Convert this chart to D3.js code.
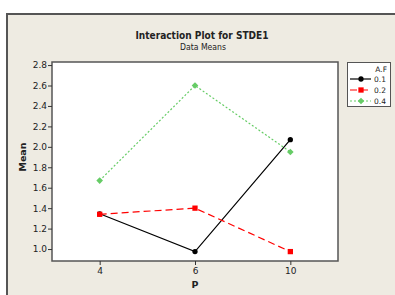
<!DOCTYPE html>
<html>
<head>
<meta charset="utf-8">
<script src="https://cdn.jsdelivr.net/npm/d3@7"></script>
<style>
  body { margin: 0; background: #fff; }
  text { font-family: Tahoma, "DejaVu Sans", sans-serif; fill: #222; }
</style>
</head>
<body>
<div id="chart"></div>
<script>
// categories on the x axis (P) and the series (A.F)
var pLevels = ["4", "6", "10"];
var afLevels = ["0.1", "0.2", "0.4"];

// means
var mean01 = [1.345, 0.975, 2.07];
var mean02 = [1.34, 1.40, 0.975];
var mean04 = [1.67, 2.60, 1.95];

var yTicks = [1.0, 1.2, 1.4, 1.6, 1.8, 2.0, 2.2, 2.4, 2.6, 2.8];

var width = 395, height = 295;
var plot = { left: 52, top: 62, right: 338, bottom: 261 };

var series = [
  { name: afLevels[0], values: mean01, color: "#000000", dash: null, symbol: d3.symbolCircle, size: 22, rot: 0 },
  { name: afLevels[1], values: mean02, color: "#ff0000", dash: "7,4", symbol: d3.symbolSquare, size: 28, rot: 0 },
  { name: afLevels[2], values: mean04, color: "#66cc66", dash: "2,2", symbol: d3.symbolSquare, size: 22, rot: 45 }
];

var svg = d3.select("#chart").append("svg")
  .attr("width", width)
  .attr("height", height);

// panel background with border on top and left
svg.append("rect").attr("x", 6).attr("y", 13).attr("width", width).attr("height", height)
  .attr("fill", "#eeebe2");
svg.append("path").attr("d", "M7," + height + "V14H" + width)
  .attr("fill", "none").attr("stroke", "#555").attr("stroke-width", 2);

// titles
svg.append("text").attr("x", 202).attr("y", 38.5).attr("text-anchor", "middle")
  .attr("font-size", 10.5).attr("font-weight", "bold")
  .attr("textLength", 133).attr("lengthAdjust", "spacingAndGlyphs")
  .text("Interaction Plot for STDE1");
svg.append("text").attr("x", 203).attr("y", 50).attr("text-anchor", "middle")
  .attr("font-size", 8.5)
  .attr("textLength", 46).attr("lengthAdjust", "spacingAndGlyphs")
  .text("Data Means");

var x = d3.scalePoint().domain(pLevels)
  .range([plot.left, plot.right]).padding(0.5);
var y = d3.scaleLinear().domain([0.883, 2.83])
  .range([plot.bottom, plot.top]);

// plot area
svg.append("rect").attr("x", plot.left).attr("y", plot.top)
  .attr("width", plot.right - plot.left).attr("height", plot.bottom - plot.top)
  .attr("fill", "#fff").attr("stroke", "#555").attr("stroke-width", 1.5);

// axes
var yAxis = svg.append("g").attr("transform", "translate(" + plot.left + ",0)")
  .call(d3.axisLeft(y).tickValues(yTicks).tickFormat(d3.format(".1f")).tickSize(4).tickPadding(1));
var xAxis = svg.append("g").attr("transform", "translate(0," + plot.bottom + ")")
  .call(d3.axisBottom(x).tickSize(4).tickPadding(3));
[yAxis, xAxis].forEach(function(a) {
  a.select(".domain").remove();
  a.selectAll("line").attr("stroke", "#333");
  a.selectAll("text").attr("font-size", 9).attr("font-family", "Tahoma, 'DejaVu Sans', sans-serif").attr("fill", "#222");
});

// axis titles
svg.append("text").attr("transform", "translate(26,157) rotate(-90)")
  .attr("text-anchor", "middle").attr("font-size", 9.5).attr("font-weight", "bold")
  .text("Mean");
svg.append("text").attr("x", 195).attr("y", 288)
  .attr("text-anchor", "middle").attr("font-size", 9.5).attr("font-weight", "bold")
  .text("P");

// lines and markers
var line = d3.line()
  .x(function(d, i) { return x(pLevels[i]); })
  .y(function(d) { return y(d); });

series.forEach(function(s) {
  svg.append("path").datum(s.values)
    .attr("d", line)
    .attr("fill", "none")
    .attr("stroke", s.color)
    .attr("stroke-width", 1.2)
    .attr("stroke-dasharray", s.dash);
  svg.selectAll(null).data(s.values).enter().append("path")
    .attr("d", d3.symbol().type(s.symbol).size(s.size))
    .attr("transform", function(d, i) {
      return "translate(" + x(pLevels[i]) + "," + y(d) + ") rotate(" + s.rot + ")";
    })
    .attr("fill", s.color);
});

// legend
var lg = svg.append("g");
lg.append("rect").attr("x", 347.5).attr("y", 62.5).attr("width", 43).attr("height", 44)
  .attr("fill", "#fff").attr("stroke", "#555").attr("stroke-width", 1);
lg.append("text").attr("x", 387).attr("y", 72).attr("text-anchor", "end")
  .attr("font-size", 7.5).text("A.F");
series.forEach(function(s, i) {
  var yy = 79 + i * 11;
  lg.append("line").attr("x1", 350).attr("x2", 371).attr("y1", yy).attr("y2", yy)
    .attr("stroke", s.color).attr("stroke-width", 1.2).attr("stroke-dasharray", s.dash);
  lg.append("path").attr("d", d3.symbol().type(s.symbol).size(s.size))
    .attr("transform", "translate(361," + yy + ") rotate(" + s.rot + ")").attr("fill", s.color);
  lg.append("text").attr("x", 374).attr("y", yy + 3).attr("font-size", 7.5).text(s.name);
});
</script>
</body>
</html>
